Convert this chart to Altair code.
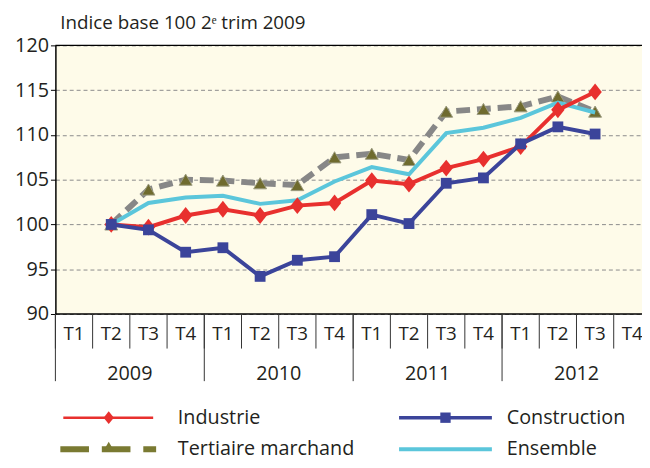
import altair as alt
import pandas as pd

# ---------------- data ----------------
quarters = ["T1", "T2", "T3", "T4"]
years = ["2009", "2010", "2011", "2012"]
series_names = ["Industrie", "Construction", "Tertiaire marchand", "Ensemble"]
first_slot = 1  # first value is 2009 T2

industrie = [100, 99.7, 101.0, 101.7, 101.0, 102.1, 102.4, 104.9, 104.5, 106.3, 107.3, 108.7, 112.8, 114.8]
construction = [100, 99.4, 96.9, 97.4, 94.2, 96.0, 96.4, 101.1, 100.1, 104.6, 105.2, 109.0, 110.9, 110.1]
tertiaire = [100, 103.9, 105.0, 104.9, 104.6, 104.4, 107.5, 107.9, 107.2, 112.6, 112.9, 113.2, 114.3, 112.6]
ensemble = [100, 102.4, 103.0, 103.2, 102.3, 102.7, 104.8, 106.4, 105.6, 110.2, 110.8, 111.9, 113.6, 112.5]

y_ticks = [90, 95, 100, 105, 110, 115, 120]
title_text = "Indice base 100 2\u1d49 trim 2009"

# ---------------- styling ----------------
FONT = "Open Sans"
TXT = "#231f20"
RED = "#e8302e"
BLUE = "#3b449a"
GRAY = "#878787"
OLIVE = "#6f6b2e"
OLIVE_LEG = "#7a7a32"
CYAN = "#5bc6db"
W, H = 594, 272
SLOT_MAX = 15.76

rows = []
for name, vals in zip(series_names, [industrie, construction, tertiaire, ensemble]):
    for i, v in enumerate(vals):
        rows.append({"serie": name, "pos": first_slot + i + 0.5, "value": v})
df = pd.DataFrame(rows)

xs = alt.Scale(domain=[0, SLOT_MAX], nice=False, zero=False)
ys = alt.Scale(domain=[90, 120], nice=False, zero=False)
X = alt.X("pos:Q", scale=xs, axis=None)
Y = alt.Y("value:Q", scale=ys, title=None,
          axis=alt.Axis(values=y_ticks, grid=True, gridDash=[4, 3], gridColor="#8a8a8a",
                        gridWidth=1, domainColor="black", domainWidth=1.5, tickColor="black",
                        tickSize=5, tickWidth=1, labelFontSize=20, labelFont=FONT,
                        labelColor=TXT, labelPadding=2))

base = alt.Chart(df)

def serie(name):
    return base.transform_filter(alt.datum.serie == name)

# border rules (top and bottom)
borders = alt.Chart(pd.DataFrame({"value": [120, 90]})).mark_rule(color="black", strokeWidth=1.5).encode(y=Y)

tert_line = serie("Tertiaire marchand").mark_line(color=GRAY, strokeWidth=6, strokeDash=[14, 7]).encode(x=X, y=Y)
tert_pts = serie("Tertiaire marchand").mark_point(shape="triangle-up", filled=True, size=170, color=OLIVE,
                                                 stroke="#9a9a80", strokeWidth=1, opacity=1).encode(x=X, y=Y)
ens_line = serie("Ensemble").mark_line(color=CYAN, strokeWidth=4).encode(x=X, y=Y)
ind_line = serie("Industrie").mark_line(color=RED, strokeWidth=4).encode(x=X, y=Y)
ind_pts = serie("Industrie").mark_point(shape="M0,-1L0.8,0L0,1L-0.8,0Z", filled=True, size=289,
                                        color=RED, opacity=1).encode(x=X, y=Y)
con_line = serie("Construction").mark_line(color=BLUE, strokeWidth=4).encode(x=X, y=Y)
con_pts = serie("Construction").mark_point(shape="square", filled=True, size=120, color=BLUE,
                                           opacity=1).encode(x=X, y=Y)

# -------- x "table" axis --------
qdf = pd.DataFrame({"pos": [i + 0.5 for i in range(16)], "label": quarters * 4})
q_text = alt.Chart(qdf).mark_text(fontSize=19, font=FONT, color=TXT, baseline="middle").encode(
    x=X, y=alt.value(292), text="label:N")
qdiv = pd.DataFrame({"pos": list(range(16))})
q_rules = alt.Chart(qdiv).mark_rule(color="#333", strokeWidth=1).encode(
    x=X, y=alt.value(272), y2=alt.value(307))
ydiv = pd.DataFrame({"pos": [0, 4, 8, 12]})
y_rules = alt.Chart(ydiv).mark_rule(color="#333", strokeWidth=1).encode(
    x=X, y=alt.value(272), y2=alt.value(340))
ylab = pd.DataFrame({"pos": [2, 6, 10, 14], "label": years})
y_text = alt.Chart(ylab).mark_text(fontSize=20, font=FONT, color=TXT, baseline="middle").encode(
    x=X, y=alt.value(333), text="label:N")

# -------- title --------
title = alt.Chart(pd.DataFrame({"t": [title_text]})).mark_text(
    fontSize=19, font=FONT, color=TXT, align="left", baseline="middle").encode(
    x=alt.value(5), y=alt.value(-23), text="t:N")

# -------- legend --------
one = pd.DataFrame({"k": [0]})
R1, R2 = 377, 409
leg = []
# Industrie
leg.append(alt.Chart(one).mark_rule(color=RED, strokeWidth=2.5).encode(
    x=alt.value(8), x2=alt.value(99), y=alt.value(R1)))
leg.append(alt.Chart(one).mark_point(shape="M0,-1L0.8,0L0,1L-0.8,0Z", filled=True, size=169,
                                     color=RED, opacity=1).encode(x=alt.value(54), y=alt.value(R1)))
# Construction
leg.append(alt.Chart(one).mark_rule(color=BLUE, strokeWidth=3.5).encode(
    x=alt.value(348), x2=alt.value(442), y=alt.value(R1)))
leg.append(alt.Chart(one).mark_point(shape="square", filled=True, size=110, color=BLUE,
                                     opacity=1).encode(x=alt.value(395), y=alt.value(R1)))
# Tertiaire marchand
leg.append(alt.Chart(one).mark_rule(color=OLIVE_LEG, strokeWidth=6, strokeDash=[29, 13]).encode(
    x=alt.value(5), x2=alt.value(102), y=alt.value(R2)))
leg.append(alt.Chart(one).mark_point(shape="triangle-up", filled=True, size=110, color=OLIVE_LEG,
                                     opacity=1).encode(x=alt.value(54), y=alt.value(R2 - 3)))
# Ensemble
leg.append(alt.Chart(one).mark_rule(color=CYAN, strokeWidth=4).encode(
    x=alt.value(348), x2=alt.value(442), y=alt.value(R2)))

leg_text = pd.DataFrame({"t": series_names})
for name, xx, yy in [("Industrie", 124, R1), ("Construction", 457, R1),
                     ("Tertiaire marchand", 124, R2), ("Ensemble", 457, R2)]:
    leg.append(alt.Chart(leg_text).transform_filter(alt.datum.t == name).mark_text(
        fontSize=20, font=FONT, color=TXT, align="left", baseline="middle").encode(
        x=alt.value(xx), y=alt.value(yy), text="t:N"))

chart = alt.layer(
    borders, tert_line, tert_pts, ens_line, ind_line, ind_pts, con_line, con_pts,
    q_rules, y_rules, q_text, y_text, title, *leg
).properties(
    width=W, height=H, autosize="none",
    padding={"left": 48, "top": 35, "right": 0, "bottom": 145},
).configure_view(fill="#fefbe9", stroke=None)

chart.save("out.html", embed_options={"renderer": "svg", "actions": False})
